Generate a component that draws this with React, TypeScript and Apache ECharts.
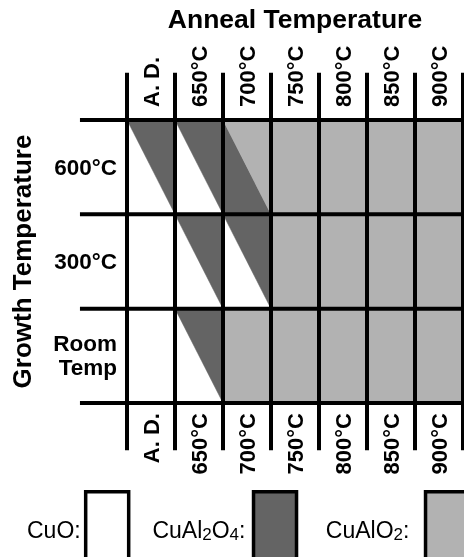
import React, { useEffect, useRef } from 'react';
import * as echarts from 'echarts';

const annealLabels = ['A. D.', '650°C', '700°C', '750°C', '800°C', '850°C', '900°C'];
const growthLabels = ['600°C', '300°C', 'Room\nTemp'];
const phaseNames = ['CuO', 'CuAl2O4', 'CuAlO2'];
// each cell: single phase, or "lowerLeft/upperRight" phases split along the cell diagonal
const row600 = ['CuO/CuAl2O4', 'CuO/CuAl2O4', 'CuAl2O4/CuAlO2', 'CuAlO2', 'CuAlO2', 'CuAlO2', 'CuAlO2'];
const row300 = ['CuO', 'CuO/CuAl2O4', 'CuO/CuAl2O4', 'CuAlO2', 'CuAlO2', 'CuAlO2', 'CuAlO2'];
const rowRoomTemp = ['CuO', 'CuO/CuAl2O4', 'CuAlO2', 'CuAlO2', 'CuAlO2', 'CuAlO2', 'CuAlO2'];
const phaseRows = [row600, row300, rowRoomTemp];

const phaseColors: Record<string, string> = { CuO: '#ffffff', CuAl2O4: '#646464', CuAlO2: '#b2b2b2' };
const FONT = '"Liberation Sans", Arial, sans-serif';

function buildPhaseData(phase: string) {
  const out: number[][] = [];
  phaseRows.forEach((row, r) => {
    row.forEach((cell, c) => {
      const parts = cell.split('/');
      if (parts.length === 1) {
        if (parts[0] === phase) out.push([c, r, 0]);
      } else {
        if (parts[0] === phase) out.push([c, r, 1]);
        if (parts[1] === phase) out.push([c, r, 2]);
      }
    });
  });
  return out;
}

const renderCell = (color: string) => (params: any, api: any) => {
  const c = api.coord([api.value(0), api.value(1)]);
  const s = api.size([1, 1]);
  const w = s[0], h = s[1];
  const l = c[0] - w / 2, r = c[0] + w / 2, t = c[1] - h / 2, b = c[1] + h / 2;
  const code = api.value(2);
  let pts;
  if (code === 0) pts = [[l, t], [r, t], [r, b], [l, b]];
  else if (code === 1) pts = [[l, t], [r, b], [l, b]];
  else pts = [[l, t], [r, t], [r, b]];
  return { type: 'polygon', shape: { points: pts }, style: { fill: color, stroke: color, lineWidth: 0.5 } };
};

const renderGrid = (params: any, api: any) => {
  const c = api.coord([0, 0]);
  const s = api.size([1, 1]);
  const w = s[0], h = s[1];
  const x0 = c[0] - w / 2, y0 = c[1] - h / 2;
  const nC = annealLabels.length, nR = growthLabels.length;
  const children: any[] = [];
  for (let i = 0; i <= nC; i++) {
    children.push({ type: 'line', shape: { x1: x0 + i * w, y1: y0 - h / 2, x2: x0 + i * w, y2: y0 + nR * h + h / 2 }, style: { stroke: '#000', lineWidth: 4 } });
  }
  for (let j = 0; j <= nR; j++) {
    children.push({ type: 'line', shape: { x1: x0 - 0.98 * w, y1: y0 + j * h, x2: x0 + nC * w, y2: y0 + j * h }, style: { stroke: '#000', lineWidth: 4 } });
  }
  return { type: 'group', children };
};

const NB = '\u00a0';
const legendText: Record<string, string> = {
  CuO: '{n|CuO:}',
  CuAl2O4: `{n|CuAl}{s|2}{n|O}{s|4}{n|:}{g3|${NB}}`,
  CuAlO2: `{g6|${NB}}{n|CuAlO}{s|2}{n|:}{g6|${NB}${NB}}`,
};

export default function App() {
  const ref = useRef<HTMLDivElement>(null);
  useEffect(() => {
    if (!ref.current) return;
    const chart = echarts.init(ref.current, undefined, { renderer: 'svg' });
    const axisLabelBase = { interval: 0, fontSize: 22, fontWeight: 'bold', color: '#000', fontFamily: FONT };
    chart.setOption({
      animation: false,
      textStyle: { fontFamily: FONT },
      grid: { left: 127, top: 115, width: 336, height: 288, containLabel: false },
      xAxis: [
        {
          type: 'category', data: annealLabels, position: 'top',
          name: 'Anneal Temperature', nameLocation: 'middle', nameGap: 88,
          nameTextStyle: { fontSize: 26.5, fontWeight: 'bold', color: '#000', fontFamily: FONT },
          axisLine: { show: false }, axisTick: { show: false }, splitLine: { show: false },
          axisLabel: { ...axisLabelBase, rotate: -90, margin: 13 },
        },
        {
          type: 'category', data: annealLabels, position: 'bottom',
          axisLine: { show: false }, axisTick: { show: false }, splitLine: { show: false },
          axisLabel: { ...axisLabelBase, rotate: 90, margin: 10 },
        },
      ],
      yAxis: {
        type: 'category', data: growthLabels, inverse: true,
        name: 'Growth Temperature', nameLocation: 'middle', nameGap: 92, nameRotate: 90,
        nameTextStyle: { fontSize: 26, fontWeight: 'bold', color: '#000', fontFamily: FONT },
        axisLine: { show: false }, axisTick: { show: false }, splitLine: { show: false },
        axisLabel: { interval: 0, fontSize: 22.5, lineHeight: 24, fontWeight: 'bold', color: '#000', margin: 10, align: 'right', fontFamily: FONT },
      },
      legend: {
        data: ['CuO', 'CuAl2O4', 'CuAlO2'],
        left: 27, top: 490, width: 520, padding: 0,
        orient: 'horizontal', align: 'right', icon: 'rect',
        itemWidth: 43, itemHeight: 77, itemGap: 22, selectedMode: false,
        itemStyle: { borderColor: '#000', borderWidth: 3.5 },
        formatter: (name: string) => legendText[name],
        textStyle: {
          rich: {
            n: { fontSize: 23, lineHeight: 26, color: '#000', fontFamily: FONT },
            s: { fontSize: 17, lineHeight: 10, verticalAlign: 'bottom', color: '#000', fontFamily: FONT },
            g3: { fontSize: 11, lineHeight: 10, fontFamily: FONT },
            g6: { fontSize: 20, lineHeight: 10, fontFamily: FONT },
          },
        },
      },
      series: [
        ...phaseNames.map((p) => ({
          type: 'custom', name: p, xAxisIndex: 0, yAxisIndex: 0,
          itemStyle: { color: phaseColors[p] },
          renderItem: renderCell(phaseColors[p]),
          data: buildPhaseData(p), silent: true, z: 2,
        })),
        {
          type: 'custom', name: 'lines', xAxisIndex: 0, yAxisIndex: 0,
          renderItem: renderGrid, data: [[0, 0]], silent: true, z: 5, clip: false,
        },
      ],
    });
    return () => chart.dispose();
  }, []);
  return <div ref={ref} style={{ position: 'fixed', left: 0, top: 0, width: 464, height: 557 }} />;
}
